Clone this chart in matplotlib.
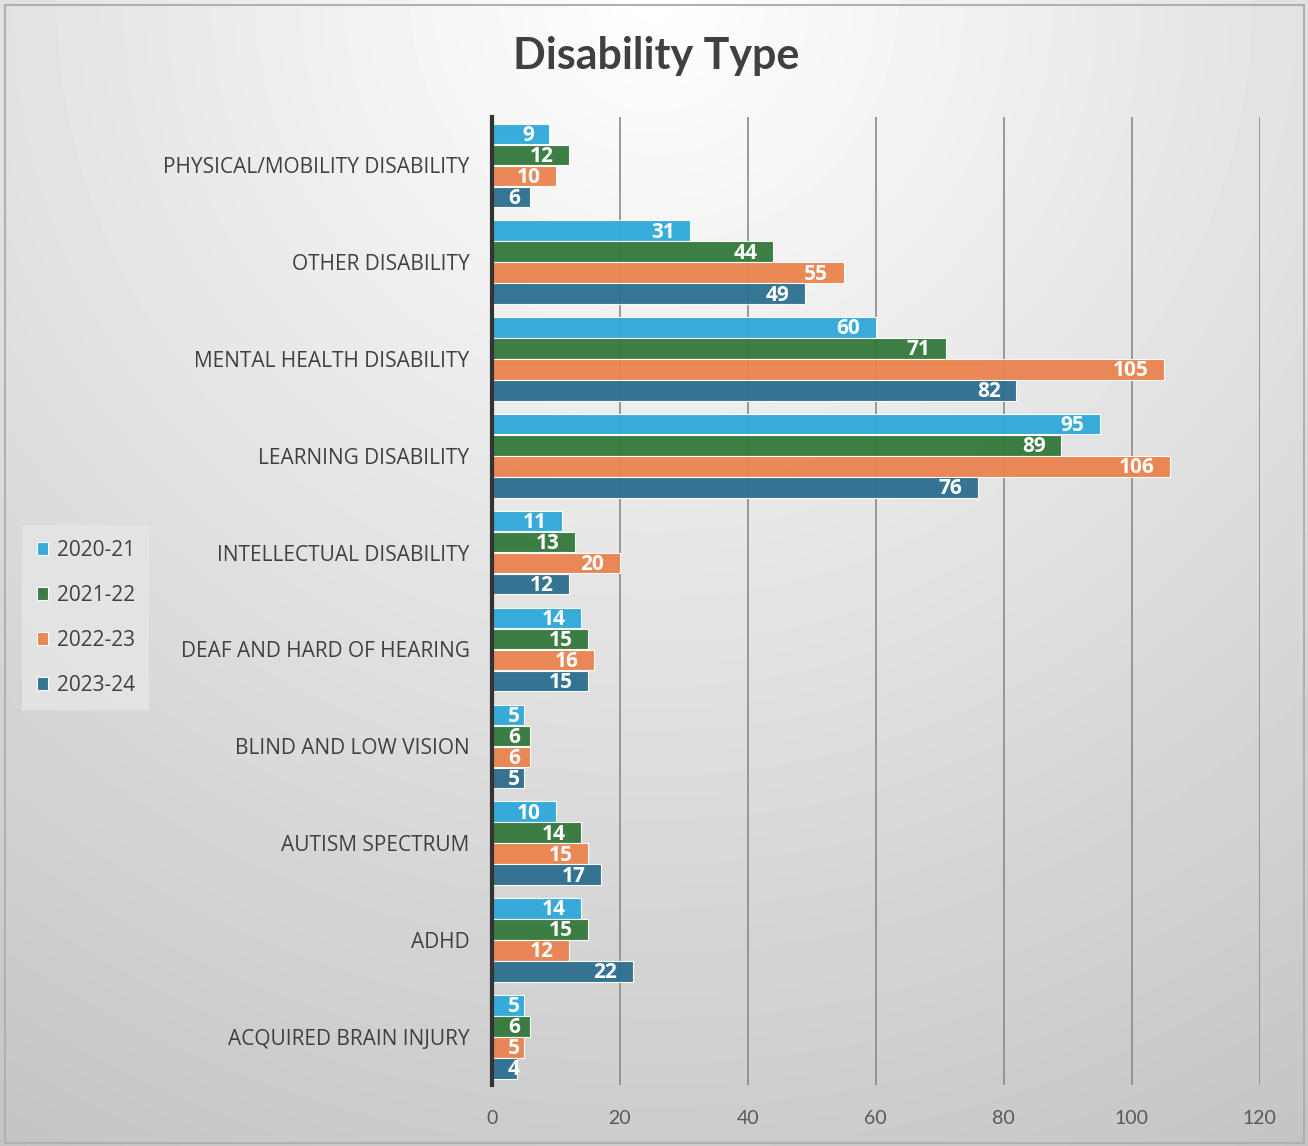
import numpy as np
import matplotlib.pyplot as plt

# data (top to bottom)
categories = ['PHYSICAL/MOBILITY DISABILITY', 'OTHER DISABILITY', 'MENTAL HEALTH DISABILITY',
              'LEARNING DISABILITY', 'INTELLECTUAL DISABILITY', 'DEAF AND HARD OF HEARING',
              'BLIND AND LOW VISION', 'AUTISM SPECTRUM', 'ADHD', 'ACQUIRED BRAIN INJURY']
years = ['2020-21', '2021-22', '2022-23', '2023-24']
v2020 = [9, 31, 60, 95, 11, 14, 5, 10, 14, 5]
v2021 = [12, 44, 71, 89, 13, 15, 6, 14, 15, 6]
v2022 = [10, 55, 105, 106, 20, 16, 6, 15, 12, 5]
v2023 = [6, 49, 82, 76, 12, 15, 5, 17, 22, 4]
xticks = [0, 20, 40, 60, 80, 100, 120]

colors = ['#2ea8da', '#33783b', '#ea834e', '#2d6e8f']

fig = plt.figure(figsize=(13.08, 11.46), dpi=100)

# radial grey background
bg = fig.add_axes([0, 0, 1, 1], zorder=-10)
yy, xx = np.mgrid[0:1146, 0:1308]
r = np.sqrt((xx - 654) ** 2 + (yy - 0) ** 2)
shade = np.clip(255 - r * 0.045, 0, 255) / 255
bg.imshow(shade, cmap='gray', vmin=0, vmax=1, aspect='auto', extent=[0, 1, 0, 1])
bg.set_xlim(0, 1)
bg.set_ylim(0, 1)
bg.axis('off')
bg.add_patch(plt.Rectangle((0.004, 0.003), 0.993, 0.993, fill=False, edgecolor='#b0b0b0', lw=1.5))

ax = fig.add_axes([0.376, 0.053, 0.587, 0.845])
ax.set_facecolor('none')

n = len(categories)
ypos = np.arange(n)[::-1]
h = 0.217
series = [v2020, v2021, v2022, v2023]
for i, vals in enumerate(series):
    offs = ypos + (1.5 - i) * h
    ax.barh(offs, vals, height=h * 0.97, color=colors[i], alpha=0.95,
            edgecolor='#ffffff', linewidth=0.8, label=years[i], zorder=3)
    for y, v in zip(offs, vals):
        ax.text(max(v - 2.4, 4.4), y - 0.015, str(v), ha='right', va='center',
                color='white', fontsize=15, fontweight='bold', family='Open Sans', zorder=4)

ax.set_xlim(0, 120)
ax.set_ylim(-0.5, n - 0.5)
ax.set_xticks(xticks)
ax.set_yticks(ypos)
ax.set_yticklabels(categories, fontsize=15, color='#404040', family='Open Sans')
ax.tick_params(axis='y', length=0, pad=16)
ax.tick_params(axis='x', length=0, pad=18, labelsize=14, labelcolor='#595959')
for lab in ax.get_xticklabels():
    lab.set_family('Lato')
ax.grid(axis='x', color='#8a8a8a', linewidth=1.2, zorder=0)
for s in ['top', 'right', 'bottom']:
    ax.spines[s].set_visible(False)
ax.spines['left'].set_linewidth(3)
ax.spines['left'].set_color('#333333')
ax.spines['left'].set_zorder(5)

fig.text(0.502, 0.951, 'Disability Type', ha='center', va='center', fontsize=31,
         fontweight='bold', color='#404040', family='Lato')

leg = fig.legend(loc='center left', bbox_to_anchor=(0.017, 0.461), frameon=True,
                 fontsize=15, handlelength=0.55, handleheight=0.55, handletextpad=0.4,
                 labelspacing=1.15, borderpad=0.7, borderaxespad=0, fancybox=False)
leg.get_frame().set_facecolor('#e6e6e6')
leg.get_frame().set_edgecolor('none')
leg.get_frame().set_alpha(0.8)
for t in leg.get_texts():
    t.set_color('#404040')
    t.set_family('Open Sans')

fig.savefig('out.png', dpi=100)
